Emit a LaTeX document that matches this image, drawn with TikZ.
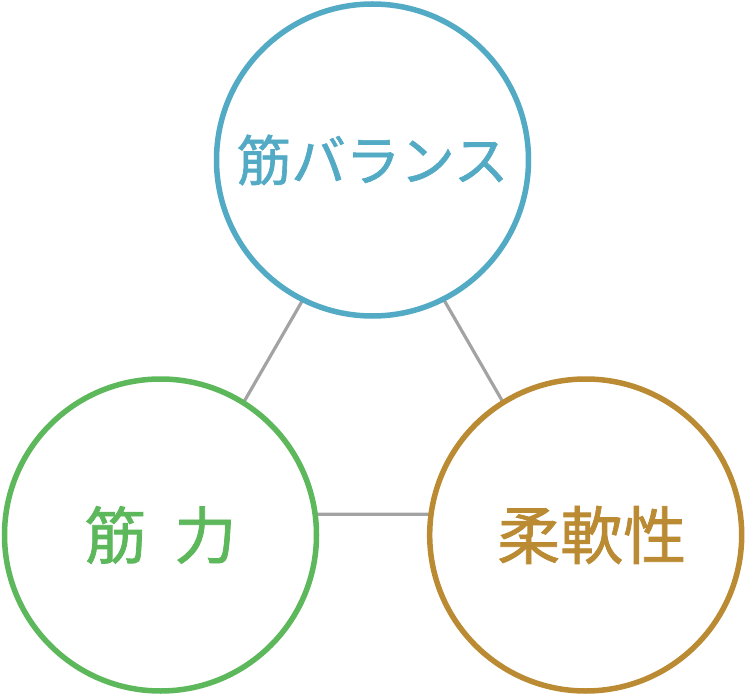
\documentclass[tikz,border=0pt]{standalone}
\usepackage{fontspec}
\usepackage{tikz}
\usetikzlibrary{positioning}
\newfontfamily\jpfont[FakeBold=1.2]{Noto Sans CJK JP}
\definecolor{BalanceBlue}{HTML}{52AAC5}
\definecolor{StrengthGreen}{HTML}{5CB85B}
\definecolor{FlexGold}{HTML}{BA8B33}
\definecolor{LinkGray}{HTML}{A3A3A3}

\begin{document}
\begin{tikzpicture}[x=1pt, y=-1pt,
    ring/.style={circle, draw, line width=5.5pt, fill=white, minimum size=312pt, inner sep=0pt},
    link/.style={draw=LinkGray, line width=3.2pt}
]
\useasboundingbox (0,0) rectangle (750,695);
\coordinate (apex) at (373.4,177.7);
\coordinate (left) at (179,514.3);
\coordinate (right) at (567.7,514.3);
\draw[link] (apex) -- (left) -- (right) -- cycle;
\node[ring, draw=BalanceBlue, text=BalanceBlue, font=\jpfont\fontsize{54.5}{60}\selectfont] (balance) at (372.5,160) {筋バランス};
\node[ring, draw=StrengthGreen, text=StrengthGreen, font=\jpfont\fontsize{62}{70}\selectfont] (strength) at (160.5,535) {筋\hspace{0.45em}力};
\node[ring, draw=FlexGold, text=FlexGold, font=\jpfont\fontsize{63}{70}\selectfont] (flex) at (585.7,535) {\hspace{12pt}柔軟性};
\end{tikzpicture}
\end{document}
